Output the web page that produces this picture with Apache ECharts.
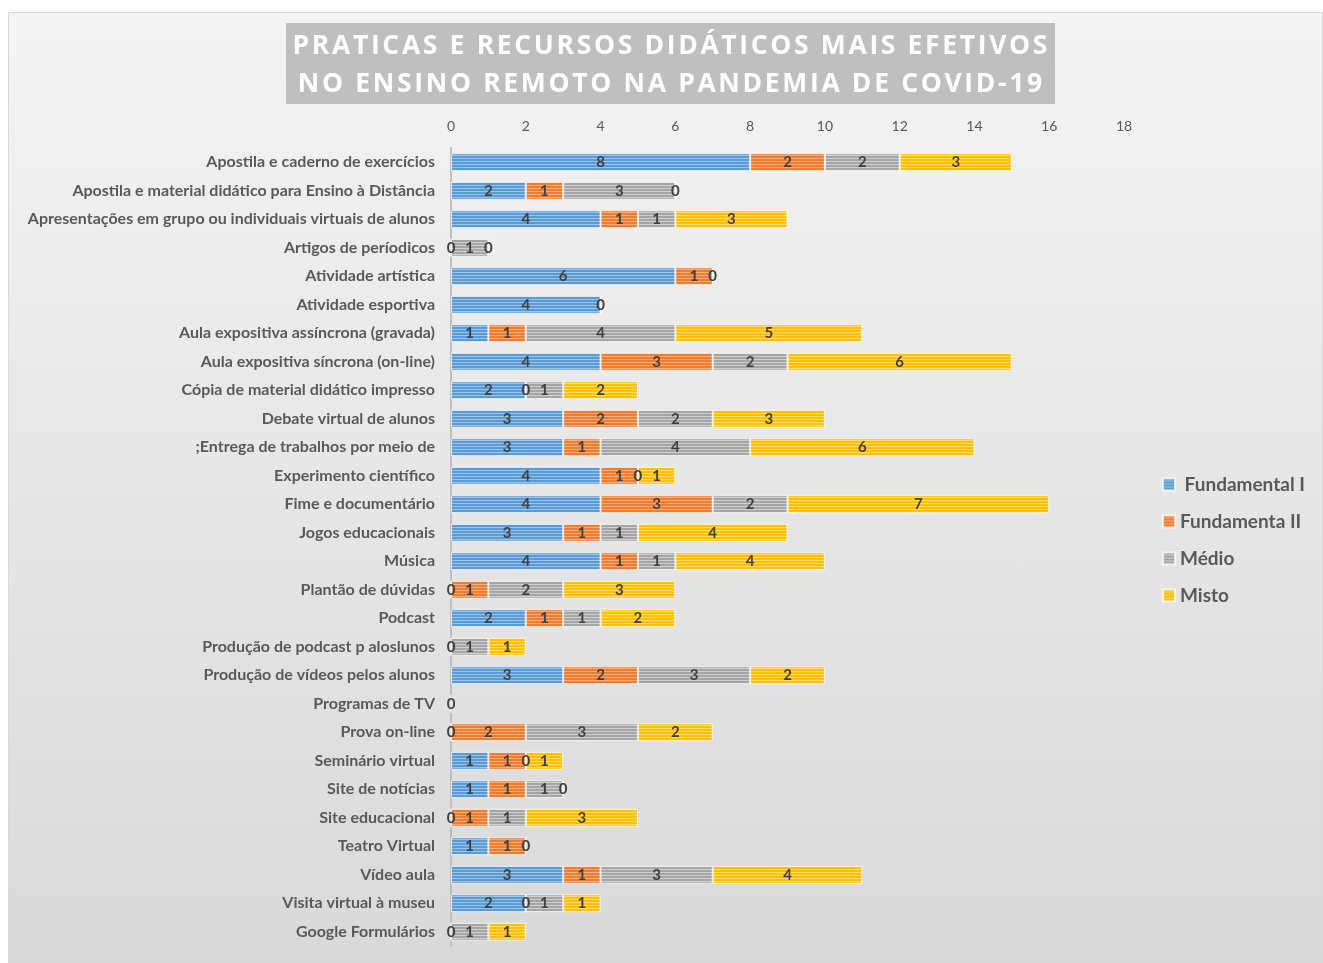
<!DOCTYPE html>
<html>
<head>
<meta charset="utf-8">
<script src="https://cdn.jsdelivr.net/npm/echarts@6/dist/echarts.min.js"></script>
<style>
  html, body { margin: 0; padding: 0; background: #fff; }
  #box { position: absolute; left: 8px; top: 12px; width: 1315px; height: 951px;
         border: 1px solid #d9d9d9; box-sizing: border-box;
         background: linear-gradient(#f4f4f4, #d9d9d9); }
  #chart { width: 1323px; height: 963px; position: absolute; left: 0; top: 0; }
</style>
</head>
<body>
<div id="box"></div>
<div id="chart"></div>
<script>
// categorias (de cima para baixo)
var categories = [
  'Apostila e caderno de exercícios',
  'Apostila e material didático para Ensino à Distância',
  'Apresentações em grupo ou individuais virtuais de alunos',
  'Artigos de períodicos',
  'Atividade artística',
  'Atividade esportiva',
  'Aula expositiva assíncrona (gravada)',
  'Aula expositiva síncrona (on-line)',
  'Cópia de material didático impresso',
  'Debate virtual de alunos',
  ';Entrega de trabalhos por meio de',
  'Experimento científico',
  'Fime e documentário',
  'Jogos educacionais',
  'Música',
  'Plantão de dúvidas',
  'Podcast',
  'Produção de podcast p aloslunos',
  'Produção de vídeos pelos alunos',
  'Programas de TV',
  'Prova on-line',
  'Seminário virtual',
  'Site de notícias',
  'Site educacional',
  'Teatro Virtual',
  'Vídeo aula',
  'Visita virtual à museu',
  'Google Formulários'
];
var fundamental1 = [8, 2, 4, 0, 6, 4, 1, 4, 2, 3, 3, 4, 4, 3, 4, 0, 2, 0, 3, 0, 0, 1, 1, 0, 1, 3, 2, 0];
var fundamental2 = [2, 1, 1, null, 1, null, 1, 3, 0, 2, 1, 1, 3, 1, 1, 1, 1, null, 2, null, 2, 1, 1, 1, 1, 1, 0, null];
var medio        = [2, 3, 1, 1, 0, 0, 4, 2, 1, 2, 4, 0, 2, 1, 1, 2, 1, 1, 3, null, 3, 0, 1, 1, 0, 3, 1, 1];
var misto        = [3, 0, 3, 0, null, null, 5, 6, 2, 3, 6, 1, 7, 4, 4, 3, 2, 1, 2, null, 2, 1, 0, 3, null, 4, 1, 1];
var seriesNames = [' Fundamental I', 'Fundamenta II', 'Médio', 'Misto'];
var xTicks = [0, 18, 2];
var titleLines = ['PRATICAS E RECURSOS DIDÁTICOS MAIS EFETIVOS', 'NO ENSINO REMOTO NA PANDEMIA DE COVID-19'];

// espaçamento entre letras com hair space
function spaced(s) {
  return s.split('').join('\u200A');
}

function stripes(base, light) {
  var c = document.createElement('canvas');
  c.width = 4; c.height = 3;
  var ctx = c.getContext('2d');
  ctx.fillStyle = base; ctx.fillRect(0, 0, 4, 3);
  ctx.fillStyle = light; ctx.fillRect(0, 2, 4, 1);
  return { image: c, repeat: 'repeat' };
}
var fills = [
  stripes('#5b9bd5', '#9cc3e8'),
  stripes('#ed7d31', '#f5ad7e'),
  stripes('#a5a5a5', '#cfcfcf'),
  stripes('#ffc000', '#ffdc6e')
];

var chart = echarts.init(document.getElementById('chart'), null, { renderer: 'canvas' });

function mk(i, data) {
  return {
    name: seriesNames[i],
    type: 'bar',
    stack: 'total',
    barCategoryGap: '37%',
    data: data,
    itemStyle: { color: fills[i], borderColor: 'rgba(255,255,255,0.7)', borderWidth: 1 },
    label: {
      show: true, position: 'inside', color: '#404040',
      fontFamily: 'Lato', fontWeight: 'bold', fontSize: 15
    }
  };
}

var option = {
  animation: false,
  backgroundColor: 'transparent',
  textStyle: { fontFamily: 'Lato' },
  graphic: [{
    type: 'rect', left: 286, top: 23,
    shape: { width: 769, height: 81 },
    style: { fill: '#bfbfbf' }
  }, {
    type: 'text', x: 670, y: 27,
    style: {
      text: spaced(titleLines[0]) + '\n' + spaced(titleLines[1]),
      fill: '#ffffff', font: 'bold 26.5px "Open Sans"', align: 'center', lineHeight: 38
    }
  }],
  legend: {
    orient: 'vertical', left: 1157, top: 470,
    itemWidth: 12, itemHeight: 12, itemGap: 18,
    icon: 'rect',
    textStyle: { color: '#595959', fontSize: 19, fontWeight: 'bold', fontFamily: 'Lato' },
    data: seriesNames
  },
  grid: { left: 451, right: 199, top: 148, bottom: 17, containLabel: false },
  xAxis: {
    type: 'value', position: 'top', min: xTicks[0], max: xTicks[1], interval: xTicks[2],
    axisLine: { show: false }, axisTick: { show: false }, splitLine: { show: false },
    axisLabel: { color: '#595959', fontSize: 14, fontFamily: 'Lato', margin: 15 }
  },
  yAxis: {
    type: 'category', inverse: true, data: categories,
    axisLine: { show: true, lineStyle: { color: '#bfbfbf', width: 2 } },
    axisTick: { show: false },
    axisLabel: { color: '#595959', fontSize: 16, fontWeight: 'bold', fontFamily: 'Lato', margin: 16 }
  },
  series: [mk(0, fundamental1), mk(1, fundamental2), mk(2, medio), mk(3, misto)]
};
chart.setOption(option);
</script>
</body>
</html>
